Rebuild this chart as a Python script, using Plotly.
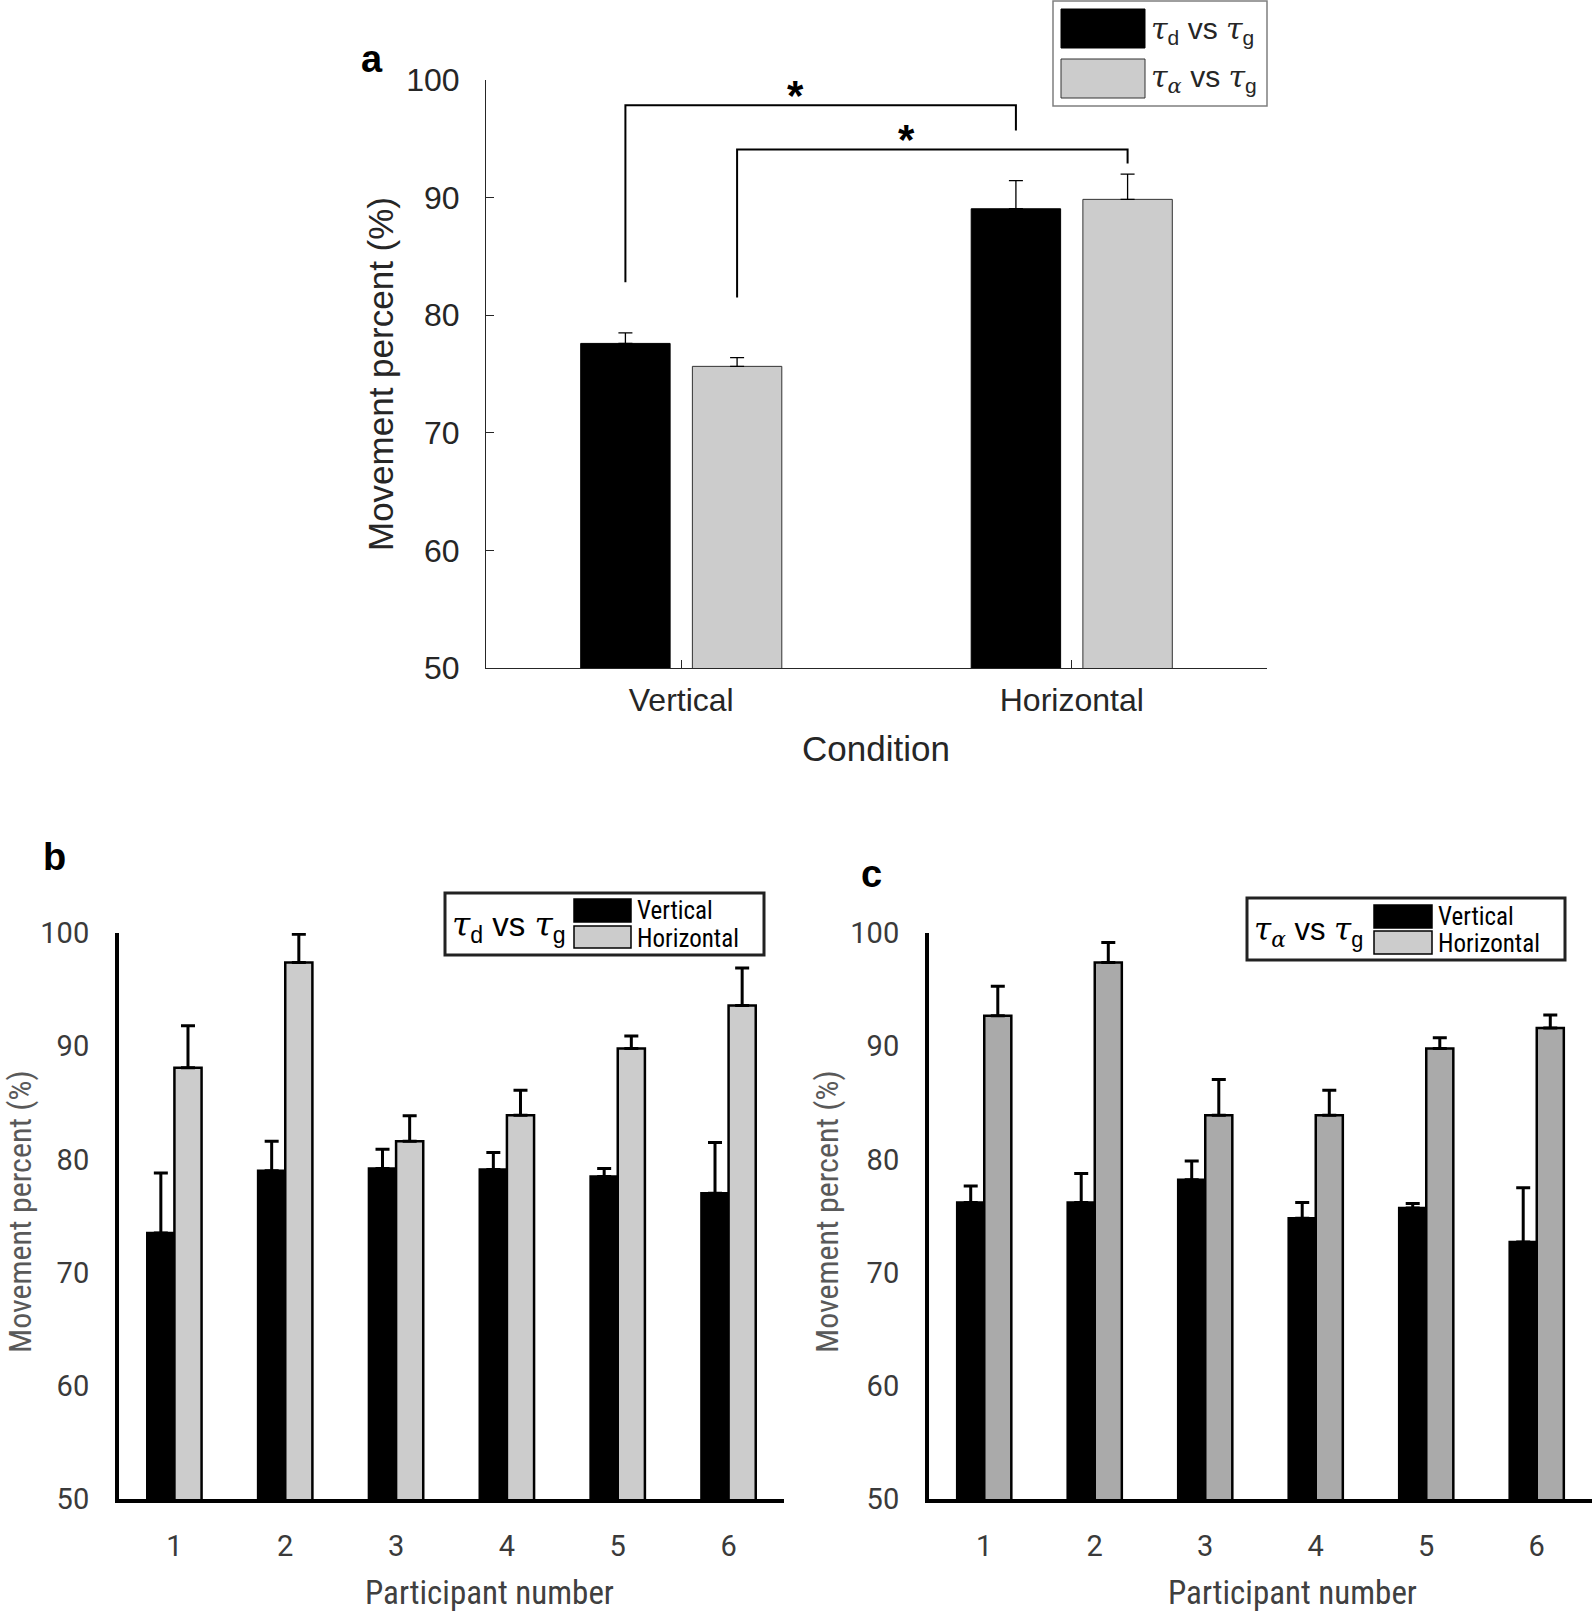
import plotly.graph_objects as go

# ---------------- data ----------------
# Panel a
conditions = ["Vertical", "Horizontal"]
a_td_mean = [77.6, 89.05]
a_td_err = [0.9, 2.4]
a_ta_mean = [75.65, 89.85]
a_ta_err = [0.75, 2.15]
# significance brackets (y levels, % units)
a_bracket_top = [97.85, 94.1]
a_bracket_left_end = [82.8, 81.5]
a_bracket_right_end = [95.7, 92.9]

# Panels b and c
participants = ["1", "2", "3", "4", "5", "6"]
b_vert = [73.5, 79.0, 79.2, 79.1, 78.5, 77.0]
b_vert_err = [5.3, 2.6, 1.7, 1.5, 0.7, 4.5]
b_horz = [88.1, 97.4, 81.6, 83.9, 89.8, 93.6]
b_horz_err = [3.7, 2.5, 2.25, 2.2, 1.1, 3.3]
c_vert = [76.2, 76.2, 78.2, 74.8, 75.7, 72.7]
c_vert_err = [1.45, 2.55, 1.65, 1.4, 0.4, 4.8]
c_horz = [92.7, 97.4, 83.9, 83.9, 89.8, 91.6]
c_horz_err = [2.6, 1.75, 3.15, 2.2, 0.95, 1.15]

y_ticks = [50, 60, 70, 80, 90, 100]

# ---------------- helpers ----------------
W, H = 1594, 1612
def px(x):
    return x / W
def py(y):
    return 1 - y / H

SANS = "Liberation Sans, Arial, sans-serif"
NARROW = "Liberation Sans Narrow, Roboto Condensed, Roboto, sans-serif"
XL = "Roboto, Lato, sans-serif"
TAU = "<span style='font-family:DejaVu Serif'><i>τ</i></span>"
ALPHA = "<span style='font-family:DejaVu Serif'><i>α</i></span>"

fig = go.Figure()

# ---------------- panel a ----------------
a_w = 0.229
a_off = 0.143
fig.add_trace(go.Bar(
    x=conditions, y=a_td_mean, xaxis="x", yaxis="y",
    width=a_w, offset=-a_off - a_w / 2,
    marker=dict(color="black", line=dict(color="black", width=1)),
    error_y=dict(type="data", symmetric=False, array=a_td_err,
                 arrayminus=[0] * len(a_td_err), color="black",
                 thickness=1.3, width=7),
    showlegend=False))
fig.add_trace(go.Bar(
    x=conditions, y=a_ta_mean, xaxis="x", yaxis="y",
    width=a_w, offset=a_off - a_w / 2,
    marker=dict(color="#cccccc", line=dict(color="#333333", width=1)),
    error_y=dict(type="data", symmetric=False, array=a_ta_err,
                 arrayminus=[0] * len(a_ta_err), color="black",
                 thickness=1.3, width=7),
    showlegend=False))

# ---------------- panels b and c ----------------
for xa, ya, vert, verr, horz, herr, hcol in [
    ("x2", "y2", b_vert, b_vert_err, b_horz, b_horz_err, "#cccccc"),
    ("x3", "y3", c_vert, c_vert_err, c_horz, c_horz_err, "#aaaaaa"),
]:
    fig.add_trace(go.Bar(
        x=participants, y=vert, xaxis=xa, yaxis=ya,
        marker=dict(color="black", line=dict(color="black", width=2.5)),
        error_y=dict(type="data", symmetric=False, array=verr,
                     arrayminus=[0] * len(verr), color="black",
                     thickness=3, width=7),
        showlegend=False))
    fig.add_trace(go.Bar(
        x=participants, y=horz, xaxis=xa, yaxis=ya,
        marker=dict(color=hcol, line=dict(color="black", width=2.5)),
        error_y=dict(type="data", symmetric=False, array=herr,
                     arrayminus=[0] * len(herr), color="black",
                     thickness=3, width=7),
        showlegend=False))

shapes = []
annotations = []

def note(x, y, text, size, family=SANS, color="black", angle=0,
         xanchor="center", yanchor="middle"):
    annotations.append(dict(x=px(x), y=py(y), xref="paper", yref="paper",
                            text=text, showarrow=False, textangle=angle,
                            xanchor=xanchor, yanchor=yanchor,
                            font=dict(family=family, size=size, color=color)))

# brackets for panel a (category index positions + bar offsets)
centers = [-a_off, a_off]
for i in range(len(a_bracket_top)):
    xl = 0 + centers[i]
    xr = 1 + centers[i]
    pts = [(xl, a_bracket_left_end[i]), (xl, a_bracket_top[i]),
           (xr, a_bracket_top[i]), (xr, a_bracket_right_end[i])]
    path = "M " + " L ".join(f"{x},{y}" for x, y in pts)
    shapes.append(dict(type="path", xref="x", yref="y", path=path,
                       line=dict(color="black", width=2)))
    annotations.append(dict(x=(xl + xr) / 2 - 0.065, y=a_bracket_top[i],
                            xref="x", yref="y", text="<b>*</b>",
                            showarrow=False, xanchor="center",
                            yanchor="bottom", yshift=-16,
                            font=dict(family=SANS, size=42, color="black")))

# ---------------- legends (drawn) ----------------
# panel a legend
shapes += [
    dict(type="rect", xref="paper", yref="paper", x0=px(1053), x1=px(1267),
         y0=py(106), y1=py(1), line=dict(color="#7f7f7f", width=1.5),
         fillcolor="white"),
    dict(type="rect", xref="paper", yref="paper", x0=px(1061), x1=px(1145),
         y0=py(48), y1=py(9), line=dict(color="black", width=1),
         fillcolor="black"),
    dict(type="rect", xref="paper", yref="paper", x0=px(1061), x1=px(1145),
         y0=py(98), y1=py(59), line=dict(color="#333333", width=1),
         fillcolor="#cccccc"),
]
note(1149, 30, f"{TAU}<sub>d</sub> vs {TAU}<sub>g</sub>", 30,
     color="#262626", xanchor="left")
note(1149, 79, f"{TAU}<sub>{ALPHA}</sub> vs {TAU}<sub>g</sub>", 30,
     color="#262626", xanchor="left")

def small_legend(bx0, by0, bx1, by1, sx0, sx1, r1, r2, label, gray, lsize):
    shapes.extend([
        dict(type="rect", xref="paper", yref="paper", x0=px(bx0), x1=px(bx1),
             y0=py(by1), y1=py(by0), line=dict(color="#222222", width=3),
             fillcolor="white"),
        dict(type="rect", xref="paper", yref="paper", x0=px(sx0), x1=px(sx1),
             y0=py(r1[1]), y1=py(r1[0]), line=dict(color="black", width=1.5),
             fillcolor="black"),
        dict(type="rect", xref="paper", yref="paper", x0=px(sx0), x1=px(sx1),
             y0=py(r2[1]), y1=py(r2[0]), line=dict(color="black", width=1.5),
             fillcolor=gray),
    ])
    note(bx0 + 5, (by0 + by1) / 2 + 2, label, lsize, xanchor="left")
    note(sx1 + 4, (r1[0] + r1[1]) / 2, "Vertical", 25, family=NARROW,
         xanchor="left")
    note(sx1 + 4, (r2[0] + r2[1]) / 2 + 1, "Horizontal", 25, family=NARROW,
         xanchor="left")

small_legend(445, 893, 764, 955, 574, 631, (899, 922), (926, 948),
             f"{TAU}<sub>d</sub> vs {TAU}<sub>g</sub>", "#cccccc", 33)
small_legend(1247, 898, 1565, 960, 1374, 1432, (905, 928), (931, 954),
             f"{TAU}<sub>{ALPHA}</sub> vs {TAU}<sub>g</sub>", "#cccccc", 31)

# ---------------- titles & panel letters ----------------
note(372, 59, "<b>a</b>", 38)
note(54, 857, "<b>b</b>", 38)
note(871, 874, "<b>c</b>", 38)
note(380, 374, "Movement percent (%)", 35, color="#262626", angle=-90)
note(876, 748, "Condition", 35, color="#262626")
note(20, 1212, "Movement percent (%)", 32, family=NARROW, color="#595959",
     angle=-90)
note(490, 1592, "Participant number", 33, family=NARROW, color="#404040")
note(827, 1212, "Movement percent (%)", 32, family=NARROW, color="#595959",
     angle=-90)
note(1292, 1592, "Participant number", 33, family=NARROW, color="#404040")

# ---------------- axes ----------------
a_axis_x = dict(domain=[px(486), px(1267)], anchor="y", type="category",
                range=[-0.5, 1.5], showline=True, linecolor="#262626",
                linewidth=1, ticks="inside", ticklen=8, tickcolor="#262626",
                tickfont=dict(family=SANS, size=32, color="#262626"),
                ticklabelstandoff=4, showgrid=False, zeroline=False,
                automargin=False)
a_axis_y = dict(domain=[py(668), py(80)], anchor="x", range=[50, 100],
                tickvals=y_ticks, showline=True, linecolor="#262626",
                linewidth=1, ticks="inside", ticklen=8, tickcolor="#262626",
                tickfont=dict(family=SANS, size=32, color="#262626"),
                ticklabelstandoff=19, showgrid=False, zeroline=False,
                automargin=False)

def bc_axes(x0, x1, anchor_y, anchor_x):
    xa = dict(domain=[px(x0), px(x1)], anchor=anchor_y, type="category",
              range=[-0.5, 5.5], showline=True, linecolor="black",
              linewidth=4, ticks="", showgrid=False, zeroline=False,
              tickfont=dict(family=XL, size=29, color="#3a3a3a"),
              ticklabelstandoff=18, automargin=False)
    ya = dict(domain=[py(1499), py(933)], anchor=anchor_x, range=[50, 100],
              tickvals=y_ticks, showline=True, linecolor="black", linewidth=4,
              ticks="", showgrid=False, zeroline=False,
              tickfont=dict(family=XL, size=29, color="#3a3a3a"),
              ticklabelstandoff=20, automargin=False)
    return xa, ya

bx, by = bc_axes(119, 784, "y2", "x2")
cx, cy = bc_axes(929, 1592, "y3", "x3")

fig.update_layout(
    template="none",
    width=W, height=H,
    margin=dict(l=0, r=0, t=0, b=0, pad=0, autoexpand=False),
    paper_bgcolor="white", plot_bgcolor="white",
    barmode="group", bargap=0.51, bargroupgap=0,
    xaxis=a_axis_x, yaxis=a_axis_y,
    xaxis2=bx, yaxis2=by, xaxis3=cx, yaxis3=cy,
    shapes=shapes, annotations=annotations,
    showlegend=False,
)

fig.write_html(
    "out.html",
    config={"displayModeBar": False},
    post_script="document.body.style.margin='0';"
                "document.body.style.overflow='hidden';",
)
